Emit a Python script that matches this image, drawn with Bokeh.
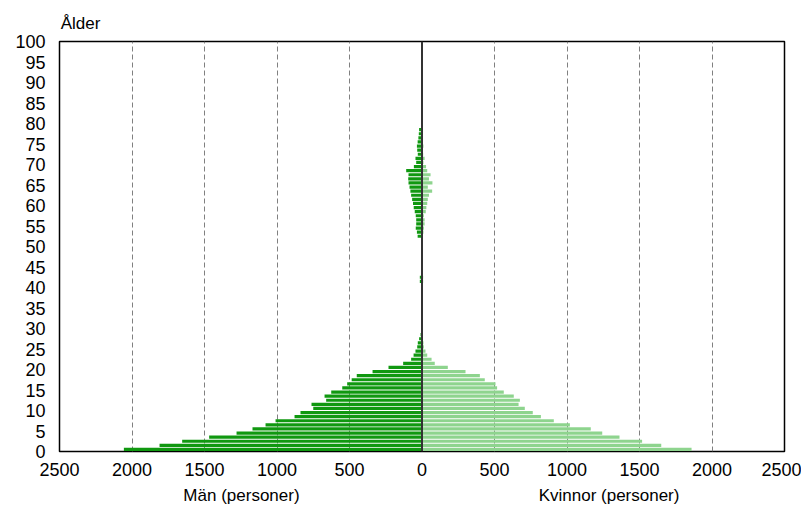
from bokeh.plotting import figure
from bokeh.models import ColumnDataSource, FixedTicker, Span, LinearAxis, Range1d
from bokeh.embed import file_html
from bokeh.resources import INLINE

ages = list(range(0, 101))

male_vals = {
    0: 2056, 1: 1810, 2: 1654, 3: 1468, 4: 1279, 5: 1169, 6: 1079, 7: 1010,
    8: 879, 9: 838, 10: 750, 11: 762, 12: 661, 13: 672, 14: 626, 15: 550,
    16: 516, 17: 485, 18: 450, 19: 341, 20: 231, 21: 130, 22: 75, 23: 58,
    24: 45, 25: 33, 26: 29, 27: 20, 28: 10,
    41: 15, 42: 15,
    52: 30, 53: 35, 54: 43, 55: 40, 56: 40, 57: 43, 58: 50, 59: 57, 60: 62,
    61: 68, 62: 75, 63: 80, 64: 86, 65: 93, 66: 95, 67: 93, 68: 109, 69: 56,
    70: 40, 71: 45, 72: 29, 73: 33, 74: 35, 75: 30, 76: 25, 77: 22, 78: 20,
}
female_vals = {
    0: 1859, 1: 1650, 2: 1518, 3: 1362, 4: 1243, 5: 1164, 6: 1020, 7: 909,
    8: 820, 9: 764, 10: 709, 11: 666, 12: 675, 13: 633, 14: 564, 15: 518,
    16: 507, 17: 433, 18: 399, 19: 300, 20: 178, 21: 88, 22: 66, 23: 36,
    24: 24, 25: 13, 26: 10, 27: 5, 28: 3,
    41: 8, 42: 8,
    52: 5, 53: 10, 54: 13, 55: 18, 56: 18, 57: 13, 58: 26, 59: 30, 60: 36,
    61: 40, 62: 48, 63: 70, 64: 40, 65: 72, 66: 48, 67: 59, 68: 36, 69: 28,
    70: 10, 71: 18, 72: 8, 74: 10, 75: 6,
}
men = [male_vals.get(a, 0) for a in ages]
women = [female_vals.get(a, 0) for a in ages]

x_ticks = [-2500, -2000, -1500, -1000, -500, 0, 500, 1000, 1500, 2000, 2500]
grid_ticks = [-2000, -1500, -1000, -500, 500, 1000, 1500, 2000]
y_ticks = list(range(0, 101, 5))
sex_labels = ["Män (personer)", "Kvinnor (personer)"]
age_label = "Ålder"

src = ColumnDataSource(dict(
    y=[a + 0.5 for a in ages],
    men_left=[-m for m in men],
    women=women,
    zero=[0] * len(ages),
))

p = figure(width=801, height=510, x_range=Range1d(-2500, 2500), y_range=Range1d(0, 100),
           output_backend="svg", toolbar_location=None,
           min_border_left=59, min_border_right=17, min_border_top=41, min_border_bottom=59)

p.background_fill_color = "white"
p.border_fill_color = "white"
p.outline_line_color = "black"
p.outline_line_width = 1.5

p.hbar(y="y", left="men_left", right="zero", height=0.78, source=src,
       fill_color="#109810", line_color=None)
p.hbar(y="y", left="zero", right="women", height=0.78, source=src,
       fill_color="#8ed48e", line_color=None)

main_x = p.below[0]
main_y = p.left[0]
main_x.ticker = FixedTicker(ticks=x_ticks)
main_x.major_label_overrides = {t: str(abs(t)) for t in x_ticks}
main_y.ticker = FixedTicker(ticks=y_ticks)

# second bottom axis carrying the two sex captions
sex_pos = [-1245, 1290]
sex_axis = LinearAxis(ticker=FixedTicker(ticks=sex_pos),
                      major_label_overrides={sex_pos[0]: sex_labels[0], sex_pos[1]: sex_labels[1]})
p.add_layout(sex_axis, "below")

# top axis carrying the age caption
age_pos = [-2355]
age_axis = LinearAxis(ticker=FixedTicker(ticks=age_pos),
                      major_label_overrides={age_pos[0]: age_label})
p.add_layout(age_axis, "above")

for ax in (main_x, main_y, sex_axis, age_axis):
    ax.axis_line_color = None
    ax.major_tick_line_color = None
    ax.minor_tick_line_color = None
    ax.major_tick_out = 0
    ax.major_tick_in = 0
    ax.minor_tick_out = 0
    ax.axis_label_standoff = 0
    ax.major_label_text_font = "Liberation Sans"
    ax.major_label_text_font_size = "18px"
    ax.major_label_text_color = "black"
main_x.major_label_standoff = 11
main_y.major_label_standoff = 14
sex_axis.major_label_text_font_size = "17px"
sex_axis.major_label_standoff = 7
age_axis.major_label_text_font_size = "17px"
age_axis.major_label_standoff = 9

p.xgrid.ticker = FixedTicker(ticks=grid_ticks)
p.xgrid.grid_line_color = "#808080"
p.xgrid.grid_line_dash = "5 3"
p.xgrid.grid_line_width = 1
p.ygrid.visible = False

p.add_layout(Span(location=0, dimension="height", line_color="#333333", line_width=2))

open("out.html", "w").write(file_html(p, INLINE))
